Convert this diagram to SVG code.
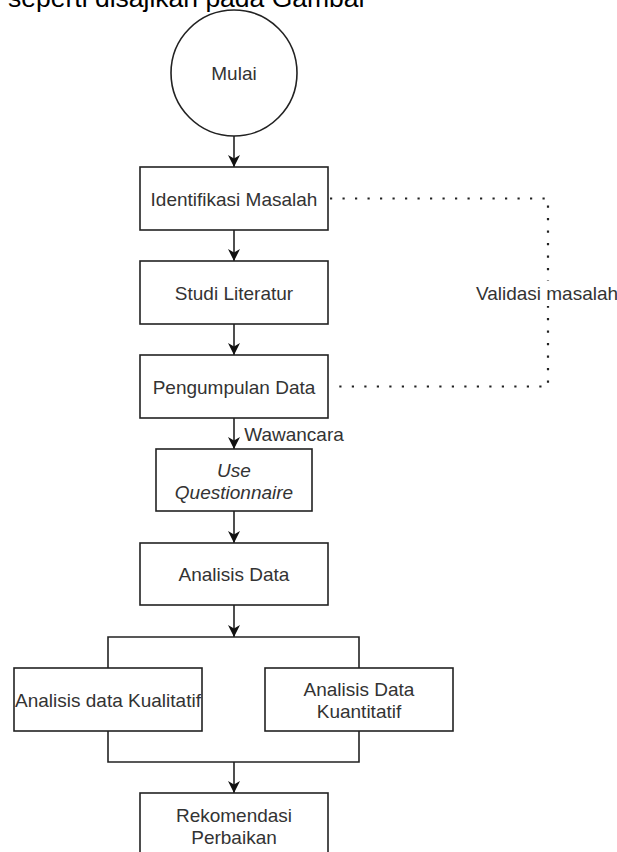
<svg xmlns="http://www.w3.org/2000/svg" width="617" height="852" viewBox="0 0 617 852">
<defs>
<style>
.box{fill:#fff;stroke:#222;stroke-width:1.6}
.ln{fill:none;stroke:#222;stroke-width:1.6}
.dot{fill:none;stroke:#222;stroke-width:2.2;stroke-dasharray:2.2 10.3}
.t{font-family:"Liberation Sans",Arial,sans-serif;font-size:19px;fill:#333;text-anchor:middle}
.ti{font-style:italic}
.doc{font-family:"Liberation Sans",Arial,sans-serif;font-size:26.5px;fill:#000}
</style>
<marker id="arr" viewBox="0 0 12 12" refX="12" refY="6" markerWidth="12" markerHeight="12" markerUnits="userSpaceOnUse" orient="auto">
<path d="M0,0 L12,6 L0,12 L3.5,6 Z" fill="#111"/>
</marker>
</defs>
<rect width="617" height="852" fill="#fff"/>
<text class="doc" x="8" y="7">seperti disajikan pada Gambar</text>

<g id="connectors">
<line class="ln" x1="234" y1="136" x2="234" y2="167" marker-end="url(#arr)"/>
<line class="ln" x1="234" y1="230" x2="234" y2="261" marker-end="url(#arr)"/>
<line class="ln" x1="234" y1="324" x2="234" y2="355" marker-end="url(#arr)"/>
<line class="ln" x1="234" y1="418" x2="234" y2="449" marker-end="url(#arr)"/>
<line class="ln" x1="234" y1="511" x2="234" y2="543" marker-end="url(#arr)"/>
<line class="ln" x1="234" y1="605" x2="234" y2="637" marker-end="url(#arr)"/>
<path class="ln" d="M108,668 V637 H359 V668"/>
<path class="ln" d="M108,731 V762 H359 V731"/>
<line class="ln" x1="234" y1="762" x2="234" y2="793" marker-end="url(#arr)"/>
<path class="dot" d="M330,198.5 H548 V386.5 H330"/>
<text class="t" x="294" y="440.8">Wawancara</text>
<rect x="476" y="281" width="141" height="25" fill="#fff"/>
<text class="t" x="547" y="299.8">Validasi masalah</text>
</g>

<g id="node-mulai">
<circle class="box" cx="234" cy="73" r="63"/>
<text class="t" x="234" y="79.8">Mulai</text>
</g>
<g id="node-identifikasi">
<rect class="box" x="140" y="167" width="188" height="63"/>
<text class="t" x="234" y="205.8">Identifikasi Masalah</text>
</g>
<g id="node-studi">
<rect class="box" x="140" y="261" width="188" height="63"/>
<text class="t" x="234" y="299.8">Studi Literatur</text>
</g>
<g id="node-pengumpulan">
<rect class="box" x="140" y="355" width="188" height="63"/>
<text class="t" x="234" y="393.8">Pengumpulan Data</text>
</g>
<g id="node-use">
<rect class="box" x="156" y="449" width="156" height="62"/>
<text class="t ti" x="234" y="476.8">Use</text>
<text class="t ti" x="234" y="498.8">Questionnaire</text>
</g>
<g id="node-analisis">
<rect class="box" x="140" y="543" width="188" height="62"/>
<text class="t" x="234" y="580.8">Analisis Data</text>
</g>
<g id="node-kualitatif">
<rect class="box" x="14" y="668" width="188" height="63"/>
<text class="t" x="108" y="706.8">Analisis data Kualitatif</text>
</g>
<g id="node-kuantitatif">
<rect class="box" x="265" y="668" width="188" height="63"/>
<text class="t" x="359" y="695.8">Analisis Data</text>
<text class="t" x="359" y="717.8">Kuantitatif</text>
</g>
<g id="node-rekomendasi">
<rect class="box" x="140" y="793" width="188" height="63"/>
<text class="t" x="234" y="821.8">Rekomendasi</text>
<text class="t" x="234" y="843.8">Perbaikan</text>
</g>
</svg>
